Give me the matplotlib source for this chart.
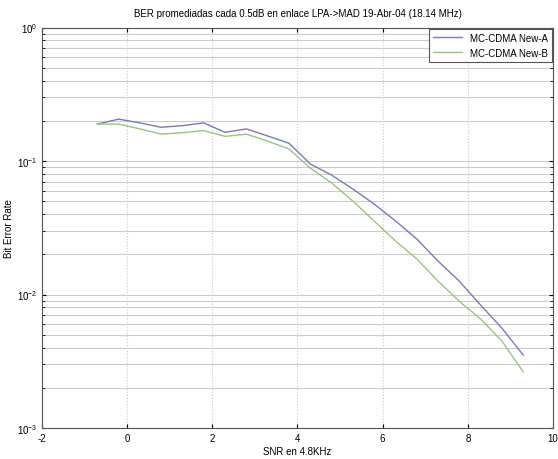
import matplotlib
matplotlib.use("agg")
import matplotlib.pyplot as plt
import numpy as np

plt.rcParams['font.family'] = ['Liberation Sans', 'DejaVu Sans']
plt.rcParams['mathtext.fontset'] = 'custom'
plt.rcParams['mathtext.rm'] = 'Liberation Sans'
plt.rcParams['axes.unicode_minus'] = False

# SNR points (every 0.5 dB)
snr = [-0.7, -0.2, 0.3, 0.8, 1.3, 1.8, 2.3, 2.8, 3.3, 3.8, 4.3,
       4.8, 5.3, 5.8, 6.3, 6.8, 7.3, 7.8, 8.3, 8.8, 9.3]

ber_a = [0.189, 0.206, 0.193, 0.179, 0.184, 0.193, 0.164, 0.174, 0.154, 0.136, 0.095,
         0.0785, 0.0617, 0.0476, 0.0356, 0.0261, 0.0178, 0.0126, 0.00834, 0.0056, 0.00352]
ber_b = [0.189, 0.189, 0.174, 0.159, 0.163, 0.169, 0.153, 0.159, 0.141, 0.123, 0.0886,
         0.0685, 0.0501, 0.0355, 0.0252, 0.0185, 0.0126, 0.0089, 0.00655, 0.00449, 0.00263]

labels = ['MC-CDMA New-A', 'MC-CDMA New-B']
title = 'BER promediadas cada 0.5dB en enlace LPA->MAD 19-Abr-04 (18.14 MHz)'

fig = plt.figure(figsize=(5.58, 4.6), dpi=100)
ax = fig.add_axes([0.0753, 0.0674, 0.9157, 0.8706])

ax.semilogy(snr, ber_a, color='#7878c8', linewidth=1.0, label=labels[0])
ax.semilogy(snr, ber_b, color='#96c878', linewidth=1.0, label=labels[1])

ax.set_xlim(-2, 10)
ax.set_ylim(1e-3, 1)
ax.set_xticks([-2, 0, 2, 4, 6, 8, 10])

ax.grid(True, which='major', axis='x', color='#c8c8c8', linestyle=':', linewidth=0.8)
ax.grid(True, which='both', axis='y', color='#cccccc', linestyle='-', linewidth=0.8)

ax.tick_params(which='both', direction='in', top=True, right=True, labelsize=7, length=3)
ax.tick_params(which='minor', length=2)
for s in ax.spines.values():
    s.set_color('#555555')
    s.set_linewidth(0.8)

ax.set_xlabel('SNR en 4.8KHz', fontsize=7, labelpad=2)
ax.set_ylabel('Bit Error Rate', fontsize=7)
ax.yaxis.set_label_coords(-0.055, 0.5)
ax.set_title(title, fontsize=7, pad=8)

leg = ax.legend(loc='upper right', fontsize=7, fancybox=False, framealpha=1,
                edgecolor='#555555', borderaxespad=0.15, handlelength=3)
leg.get_frame().set_linewidth(0.8)

plt.savefig('out.png', dpi=100)
